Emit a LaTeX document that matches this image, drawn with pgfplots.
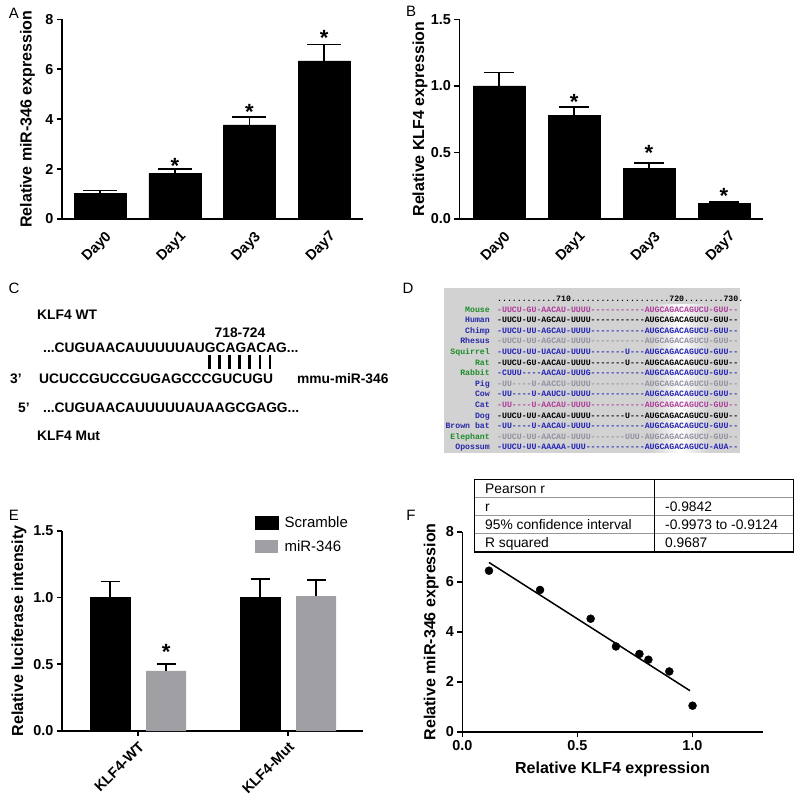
\documentclass[border=0pt]{standalone}
\usepackage{pgfplots}
\pgfplotsset{compat=1.18}
\usepackage{fontspec}
\setmainfont{Liberation Sans}
\newfontfamily\seqfont{Liberation Mono}
\definecolor{bargray}{RGB}{160,160,164}
\definecolor{boxgray}{RGB}{210,210,210}
\definecolor{spgreen}{RGB}{30,140,40}
\definecolor{spblue}{RGB}{40,40,170}
\definecolor{seqmag}{RGB}{175,60,155}
\definecolor{seqblue}{RGB}{35,35,185}
\definecolor{seqgray}{RGB}{145,145,160}
\definecolor{tabgray}{RGB}{150,150,150}

\pgfplotsset{
  gp/.style={
    scale only axis, clip=false,
    axis x line*=bottom, axis y line*=left,
    axis line style={line width=1.6pt,-},
    tick style={line width=1.6pt, black},
    tick align=outside, major tick length=5pt,
    tick label style={font=\bfseries\fontsize{14.4}{14.4}\selectfont},
    /pgf/number format/assume math mode=true,
  },
  ylab/.style={every axis y label/.style={at={(axis description cs:0,0.5)}, anchor=center, xshift=#1, rotate=90, font=\bfseries\fontsize{16}{16}\selectfont}},
  daylabels/.style={xtick={0,1,2,3}, xticklabels={Day0,Day1,Day3,Day7}, x tick style={draw=none},
     xticklabel style={anchor=center, xshift=-3pt, yshift=-23pt, rotate=45}},
  onedec/.style={#1ticklabel style={/pgf/number format/.cd, fixed, fixed zerofill, precision=1}},
  errs/.style={error bars/.cd, y dir=plus, y explicit, error bar style={line width=1.8pt, black}, error mark options={rotate=90, line width=1.8pt, black, mark size=#1}},
}
\tikzset{star/.style={anchor=base, yshift=-11.3pt, inner sep=0pt, font=\bfseries\fontsize{22}{22}\selectfont}}

\newcommand{\seqrow}[5]{%
  \node[anchor=base east, inner sep=0pt, text=#2] at (490pt,-#1pt) {#3};
  \node[anchor=base west, inner sep=0pt, text=#4] at (497pt,-#1pt) {#5};}

\begin{document}
\begin{tikzpicture}
\path[use as bounding box] (0pt,0pt) rectangle (800pt,-807pt);

% ---------- Panel A ----------
\begin{axis}[gp, at={(62pt,-219pt)}, anchor=south west, width=301pt, height=199.7pt,
  xmin=-0.51, xmax=3.52, ymin=0, ymax=8, ytick={0,2,4,6,8},
  daylabels, ylabel={Relative miR-346 expression}, ylab=-34.5pt]
\addplot[ybar, bar width=52pt, fill=black, draw=black, errs=17pt]
  coordinates {(0,1.02) +- (0,0.12) (1,1.83) +- (0,0.16) (2,3.77) +- (0,0.32) (3,6.33) +- (0,0.66)};
\node[star] at (axis cs:1,2.27) {*};
\node[star] at (axis cs:2,4.43) {*};
\node[star] at (axis cs:3,7.39) {*};
\end{axis}

% ---------- Panel B ----------
\begin{axis}[gp, at={(459.3pt,-219pt)}, anchor=south west, width=303.7pt, height=199.7pt,
  xmin=-0.53, xmax=3.52, ymin=0, ymax=1.5, ytick={0,0.5,1,1.5}, onedec=y,
  daylabels, ylabel={Relative KLF4 expression}, ylab=-39.3pt]
\addplot[ybar, bar width=52pt, fill=black, draw=black, errs=15pt]
  coordinates {(0,1.0) +- (0,0.10) (1,0.78) +- (0,0.06) (2,0.38) +- (0,0.04) (3,0.12) +- (0,0.01)};
\node[star] at (axis cs:1,0.907) {*};
\node[star] at (axis cs:2,0.526) {*};
\node[star] at (axis cs:3,0.198) {*};
\end{axis}

% ---------- Panel E ----------
\begin{axis}[gp, at={(62pt,-731pt)}, anchor=south west, width=301pt, height=200.3pt,
  xmin=-0.507, xmax=1.5, ymin=0, ymax=1.5, ytick={0,0.5,1,1.5}, onedec=y,
  xtick={0,1}, xticklabels={KLF4-WT,KLF4-Mut},
  xticklabel style={rotate=45, anchor=north east},
  ylabel={Relative luciferase intensity}, ylab=-43pt,
  legend style={at={(0.631,1.09)}, anchor=north west, draw=none, fill=none,
    font=\fontsize{15}{15}\selectfont, row sep=7pt, column sep=4pt},
  legend cell align=left]
\addplot[ybar, bar width=40pt, bar shift=0pt, fill=black, draw=black,
  legend image code/.code={\fill[black] (0pt,-6.5pt) rectangle (23pt,6.5pt);}, errs=9.5pt]
  coordinates {(-0.1867,1.0) +- (0,0.12) (0.8133,1.0) +- (0,0.14)};
\addlegendentry{Scramble}
\addplot[ybar, bar width=40pt, bar shift=0pt, fill=bargray, draw=none,
  legend image code/.code={\fill[bargray] (0pt,-6.5pt) rectangle (23pt,6.5pt);}, errs=9.5pt]
  coordinates {(0.1867,0.45) +- (0,0.05) (1.1867,1.01) +- (0,0.12)};
\addlegendentry{miR-346}
\node[star] at (axis cs:0.1867,0.62) {*};
\end{axis}

% ---------- Panel F ----------
\begin{axis}[gp, at={(462.3pt,-731.7pt)}, anchor=south west, width=300.4pt, height=200pt,
  xmin=0, xmax=1.306, ymin=0, ymax=8, ytick={0,2,4,6,8}, xtick={0,0.5,1}, onedec=x,
  ylabel={Relative miR-346 expression}, ylab=-31pt,
  xlabel={Relative KLF4 expression},
  every axis x label/.style={at={(axis description cs:0.5,0)}, anchor=center, yshift=-38pt, font=\bfseries\fontsize{16}{16}\selectfont}]
\addplot[only marks, mark=*, mark size=4pt, black]
  coordinates {(0.116,6.44) (0.338,5.67) (0.558,4.52) (0.668,3.41) (0.770,3.11) (0.809,2.88) (0.900,2.41) (1.001,1.04)};
\addplot[black, line width=1.5pt] coordinates {(0.116,6.77) (0.99,1.64)};
\end{axis}

% ---------- Table in F ----------
\fill[white] (474.3pt,-479.3pt) rectangle (793.3pt,-551.7pt);
\foreach \yy in {497.4,515.5,533.6} \draw[tabgray, line width=0.8pt] (474.3pt,-\yy pt) -- (793.3pt,-\yy pt);
\draw[line width=1.6pt] (474.3pt,-479.3pt) rectangle (793.3pt,-551.7pt);
\draw[line width=1.6pt] (654.3pt,-479.3pt) -- (654.3pt,-551.7pt);
\begin{scope}[every node/.style={anchor=base west, inner sep=0pt, font=\fontsize{13.8}{13.8}\selectfont}]
\node at (485pt,-493.4pt) {Pearson r};
\node at (485pt,-511.5pt) {r};
\node at (485pt,-529.6pt) {95\% confidence interval};
\node at (485pt,-547.7pt) {R squared};
\node at (665pt,-511.5pt) {-0.9842};
\node at (665pt,-529.6pt) {-0.9973 to -0.9124};
\node at (665pt,-547.7pt) {0.9687};
\end{scope}

% ---------- Panel C ----------
\begin{scope}[every node/.style={anchor=base west, inner sep=0pt, font=\bfseries\fontsize{13.8}{13.8}\selectfont}]
\node at (37pt,-319pt) {KLF4 WT};
\node[anchor=base] at (240pt,-337pt) {718-724};
\node at (43pt,-352pt) {...CUGUAACAUUUUUAUGCAGACAG...};
\node at (10pt,-383pt) {3'};
\node at (39pt,-383pt) {UCUCCGUCCGUGAGCCCGUCUGU};
\node at (297pt,-383pt) {mmu-miR-346};
\node at (18pt,-412pt) {5'};
\node at (43pt,-412pt) {...CUGUAACAUUUUUAUAAGCGAGG...};
\node at (37pt,-440pt) {KLF4 Mut};
\end{scope}
\foreach \i in {0,...,6} \draw[line width=2.6pt] ({209.3pt+\i*10.1pt},-355pt) -- ++(0pt,-14pt);

% ---------- Panel D ----------
\fill[boxgray] (444pt,-288pt) rectangle (740pt,-453pt);
\shade[left color=boxgray, right color=boxgray, middle color=white] (652pt,-304pt) rectangle (708pt,-452pt);
\begin{scope}[font=\seqfont\bfseries\fontsize{8.2}{8.2}\selectfont]
\node[anchor=base west, inner sep=0pt] at (497pt,-301pt) {............710....................720........730.};
\seqrow{312}{spgreen}{Mouse}{seqmag}{-UUCU-GU-AACAU-UUUU-----------AUGCAGACAGUCU-GUU--}
\seqrow{322.6}{spblue}{Human}{black}{-UUCU-UU-AGCAU-UUUU-----------AUGCAGACAGUCU-GUU--}
\seqrow{333.2}{spblue}{Chimp}{seqblue}{-UUCU-UU-AGCAU-UUUU-----------AUGCAGACAGUCU-GUU--}
\seqrow{343.8}{spblue}{Rhesus}{seqgray}{-UUCU-UU-AGCAU-UUUU-----------AUGCAGACAGUCU-GUU--}
\seqrow{354.4}{spgreen}{Squirrel}{seqblue}{-UUCU-UU-UACAU-UUUU-------U---AUGCAGACAGUCU-GUU--}
\seqrow{365}{spgreen}{Rat}{black}{-UUCU-GU-AACAU-UUUU-------U---AUGCAGACAGUCU-GUU--}
\seqrow{375.6}{spgreen}{Rabbit}{seqblue}{-CUUU----AACAU-UUUG-----------AUGCAGACAGUCU-GUU--}
\seqrow{386.2}{spblue}{Pig}{seqgray}{-UU----U-AACCU-UUUU-----------AUGCAGACAGUCU-GUU--}
\seqrow{396.8}{spblue}{Cow}{seqblue}{-UU----U-AAUCU-UUUU-----------AUGCAGACAGUCU-GUU--}
\seqrow{407.4}{spblue}{Cat}{seqmag}{-UU----U-AACAU-UUUU-----------AUGCAGACAGUCU-GUU--}
\seqrow{418}{spblue}{Dog}{black}{-UUCU-UU-AACAU-UUUU-------U---AUGCAGACAGUCU-GUU--}
\seqrow{428.6}{spblue}{Brown bat}{seqblue}{-UU----U-AACAU-UUUU-----------AUGCAGACAGUCU-GUU--}
\seqrow{439.2}{spgreen}{Elephant}{seqgray}{-UUCU-UU-AACAU-UUUU-------UUU-AUGCAGACAGUCU-GUU--}
\seqrow{449.8}{spblue}{Opossum}{seqblue}{-UUCU-UU-AAAAA-UUU------------AUGCAGACAGUCU-AUA--}
\end{scope}

% ---------- Panel letters ----------
\begin{scope}[every node/.style={anchor=center, inner sep=0pt, font=\fontsize{15}{15}\selectfont}]
\node at (14pt,-13pt) {A};
\node at (411pt,-11pt) {B};
\node at (14pt,-288pt) {C};
\node at (408pt,-288pt) {D};
\node at (14pt,-515pt) {E};
\node at (411pt,-515pt) {F};
\end{scope}
\end{tikzpicture}
\end{document}
